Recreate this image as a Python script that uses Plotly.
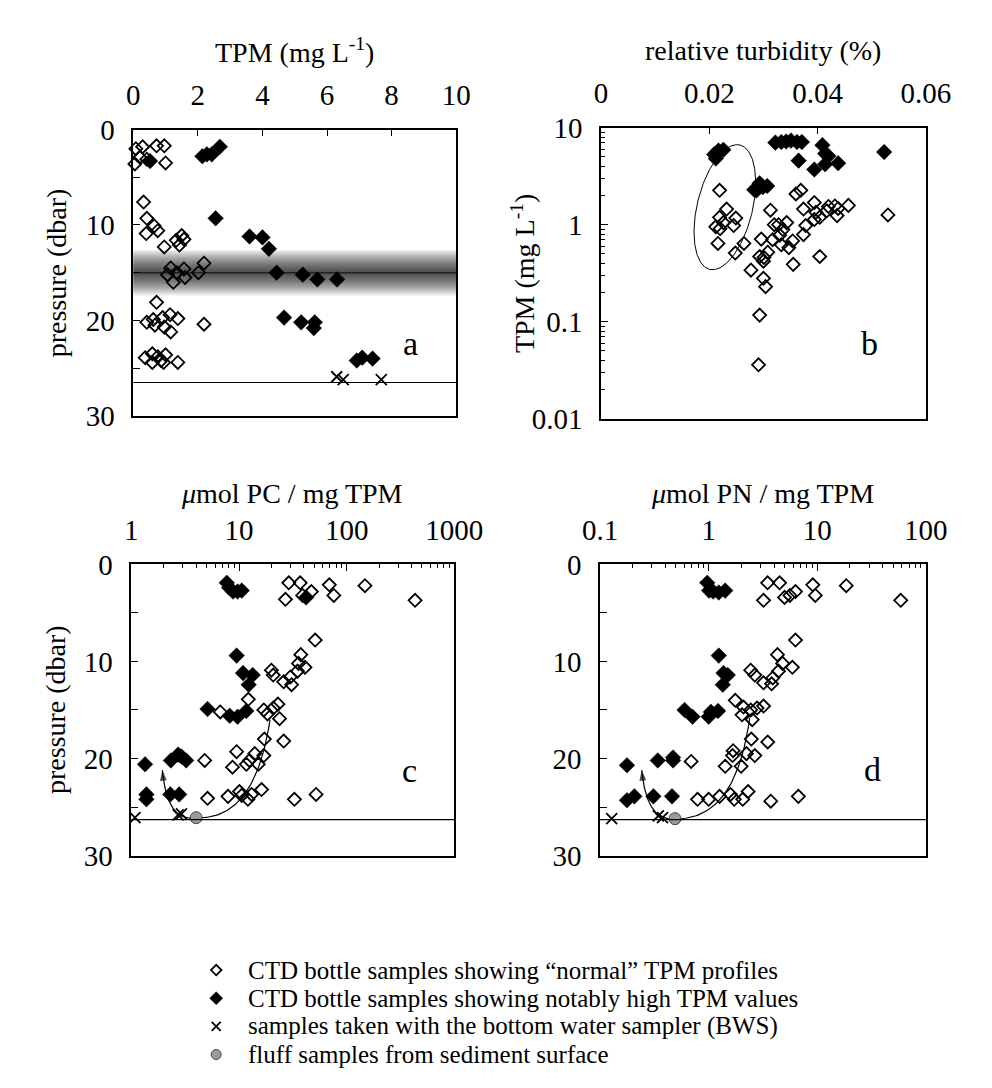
import numpy as np
import plotly.graph_objects as go

# ---------------- data ----------------
# panel a: TPM (mg/L) vs pressure (dbar)
a_norm_tpm = [0.05, 0.08, 0.2, 0.29, 0.42, 0.72, 0.96, 1.0,
              0.32, 0.42, 0.65, 0.76, 0.4, 0.96, 1.33, 1.5, 1.57, 1.43,
              1.06, 1.16, 1.35, 1.24, 1.6, 1.57, 2.02, 2.19,
              0.72, 0.42, 0.62, 0.67, 0.91, 0.96, 1.14, 1.16, 1.38, 2.19,
              0.37, 0.59, 0.59, 0.76, 0.86, 1.0, 0.94, 1.38]
a_norm_p = [3.6, 2.0, 2.9, 1.8, 3.1, 1.7, 1.7, 3.5,
            7.6, 9.3, 10.1, 10.6, 10.9, 12.3, 11.6, 11.1, 11.5, 12.1,
            15.2, 14.5, 15.0, 16.0, 15.5, 14.6, 15.0, 14.0,
            18.1, 20.2, 19.9, 20.5, 19.7, 20.7, 19.4, 21.2, 19.8, 20.4,
            23.9, 23.5, 24.4, 23.8, 24.2, 23.6, 24.4, 24.4]
a_high_tpm = [0.52, 2.14, 2.28, 2.43, 2.68, 2.55, 3.6, 4.0, 4.2, 4.44, 5.25, 5.7, 6.31,
              4.67, 5.2, 5.62, 5.59, 6.92, 7.09, 7.41]
a_high_p = [3.3, 2.8, 2.6, 2.6, 1.8, 9.3, 11.2, 11.3, 12.5, 15.0, 15.2, 15.7, 15.7,
            19.7, 20.2, 20.2, 20.8, 24.2, 23.9, 24.0]
a_bws_tpm = [6.3, 6.5, 7.68]
a_bws_p = [25.9, 26.2, 26.2]

# panel b: relative turbidity (%) vs TPM (mg/L)
b_norm_turb = [0.0219, 0.0232, 0.0249, 0.0219, 0.0226, 0.0212, 0.0220, 0.0245, 0.0216, 0.0248, 0.0264,
               0.0277, 0.0296, 0.0293, 0.0301, 0.0300, 0.0308, 0.0300, 0.0304, 0.0293, 0.0291,
               0.0313, 0.0320, 0.0317, 0.0328, 0.0330, 0.0343, 0.0333, 0.0347, 0.0354, 0.0336, 0.0355,
               0.0360, 0.0369, 0.0374, 0.0378, 0.0374, 0.0394, 0.0397, 0.0394, 0.0404, 0.0404,
               0.0417, 0.0420, 0.0432, 0.0438, 0.0436, 0.0457, 0.0530]
b_norm_tpm = [2.26, 1.45, 1.17, 1.19, 1.05, 0.95, 0.91, 0.98, 0.64, 0.51, 0.64,
              0.34, 0.71, 0.47, 0.46, 0.42, 0.52, 0.28, 0.23, 0.117, 0.036,
              1.41, 1.0, 0.70, 1.0, 0.78, 1.05, 0.62, 0.58, 0.68, 0.89, 0.39,
              2.07, 2.26, 1.45, 0.98, 0.79, 1.69, 1.34, 1.13, 1.19, 0.47,
              1.39, 1.54, 1.56, 1.47, 1.24, 1.58, 1.26]
b_high_turb = [0.0209, 0.0217, 0.0226, 0.0212, 0.0214,
               0.0283, 0.0293, 0.0299, 0.0307, 0.0287,
               0.0322, 0.0333, 0.0342, 0.0351, 0.0362, 0.0371,
               0.0365, 0.0394, 0.0409, 0.0414, 0.0420, 0.0414, 0.0438, 0.0523]
b_high_tpm = [5.3, 5.8, 5.9, 4.8, 5.4,
              2.29, 2.67, 2.44, 2.5, 2.25,
              7.0, 7.1, 7.2, 7.35, 7.1, 7.1,
              4.57, 3.7, 6.6, 5.4, 5.1, 4.2, 4.3, 5.6]

# panel c: umol PC / mg TPM vs pressure
c_norm_pc = [29, 37, 27, 39, 47, 69, 76, 148, 432,
             51, 37.5, 35.7, 41, 35, 20, 20.8, 26, 30, 30.8, 12.2,
             6.7, 17, 18.4, 20.8, 23, 23.8,
             17.2, 26, 9.5, 14, 17, 15.1, 11.7, 12.5, 4.8, 8.7,
             5.1, 7.9, 10.1, 10.6, 12.1, 13.1, 16.2, 32.7, 52]
c_norm_p = [1.9, 1.9, 3.6, 3.2, 2.8, 2.1, 3.2, 2.2, 3.7,
            7.8, 9.3, 10.2, 10.6, 11.0, 10.9, 11.4, 12.1, 11.6, 12.4, 13.9,
            15.2, 15.0, 15.4, 14.8, 14.4, 15.9,
            18.0, 18.2, 19.3, 19.5, 19.7, 20.6, 20.6, 20.2, 20.2, 20.9,
            24.1, 23.9, 23.4, 23.8, 24.2, 23.7, 23.2, 24.2, 23.7]
c_high_pc = [7.7, 8.1, 8.8, 9.7, 10.6, 42, 9.5, 10.9, 13.4, 12.3, 5.1, 8.2, 9.7, 11.7,
             1.34, 2.33, 2.72, 2.92, 3.23, 1.38, 1.38, 2.3, 2.78]
c_high_p = [1.9, 2.4, 2.8, 2.8, 2.7, 3.4, 9.4, 11.2, 11.4, 12.4, 14.9, 15.6, 15.7, 15.1,
            20.6, 20.2, 19.6, 19.8, 20.2, 23.7, 24.2, 23.7, 23.7]
c_bws_pc = [1.08, 2.72, 2.92]
c_bws_p = [26.1, 25.8, 25.7]
c_fluff_pc = [4.0]
c_fluff_p = [26.1]

# panel d: umol PN / mg TPM vs pressure
d_norm_pn = [3.49, 4.5, 3.2, 5.0, 5.6, 6.3, 9.1, 9.6, 18.5, 58.7,
             6.3, 4.3, 4.8, 5.9, 4.4, 2.44, 2.66, 3.2, 3.8, 3.9,
             1.76, 2.09, 2.03, 2.44, 2.79, 3.2, 2.52,
             0.69, 1.42, 1.66, 1.68, 1.99, 2.23, 2.66, 2.47, 3.5,
             0.79, 1.0, 1.26, 1.59, 1.72, 2.06, 2.31, 3.73, 6.7]
d_norm_p = [1.9, 1.9, 3.7, 3.4, 3.2, 2.8, 2.1, 3.2, 2.2, 3.7,
            7.8, 9.3, 10.2, 10.6, 11.0, 10.9, 11.4, 12.2, 12.3, 11.7,
            14.0, 14.7, 15.5, 15.0, 14.8, 14.6, 16.0,
            20.3, 20.8, 19.7, 19.2, 20.8, 19.5, 19.7, 18.0, 18.3,
            24.2, 24.2, 23.9, 23.7, 24.2, 24.2, 23.4, 24.4, 23.9]
d_high_pn = [0.97, 1.01, 1.24, 1.42, 1.1, 1.24, 1.37, 1.5, 1.35, 0.6, 0.71, 1.0, 1.05, 1.22,
             0.177, 0.34, 0.47, 0.47, 0.177, 0.207, 0.31, 0.46]
d_high_p = [1.9, 2.7, 2.9, 2.7, 2.8, 9.4, 11.2, 11.4, 12.4, 15.0, 15.7, 15.7, 15.2, 15.1,
            20.7, 20.2, 19.9, 20.2, 24.3, 23.9, 23.9, 23.9]
d_bws_pn = [0.128, 0.344, 0.376]
d_bws_p = [26.2, 25.9, 26.1]
d_fluff_pn = [0.49]
d_fluff_p = [26.2]

bottom_a = 26.5
bottom_cd = 26.3
band_center = 15.0

legend_labels = ["CTD bottle samples showing \u201cnormal\u201d TPM profiles",
                 "CTD bottle samples showing notably high TPM values",
                 "samples taken with the bottom water sampler (BWS)",
                 "fluff samples from sediment surface"]

# ---------------- style ----------------
FONT = "Liberation Serif"
W, H = 992, 1088
TICKF = dict(family=FONT, size=29, color="black")

def xd(l, r):
    return [l / W, r / W]

def yd(t, b):
    return [1 - b / H, 1 - t / H]

def px(x):
    return x / W

def py(y):
    return 1 - y / H

open_m = dict(symbol="diamond-open", size=10, color="black", line=dict(width=1.8, color="black"))
fill_m = dict(symbol="diamond", size=12, color="black", line=dict(width=0.5, color="black"))
x_m = dict(symbol="x-thin-open", size=11, color="black", line=dict(width=1.8, color="black"))
fluff_m = dict(symbol="circle", size=12, color="#9a9a9a", line=dict(width=1, color="#444"))

fig = go.Figure()

def pts(x, y, m, xa, ya, name):
    fig.add_trace(go.Scatter(x=x, y=y, mode="markers", marker=m, xaxis=xa, yaxis=ya,
                             showlegend=False, name=name, cliponaxis=False))

def line(x, y, xa, ya, w=1.3):
    fig.add_trace(go.Scatter(x=x, y=y, mode="lines", line=dict(color="black", width=w),
                             xaxis=xa, yaxis=ya, showlegend=False, hoverinfo="skip"))

# panel a
pts(a_norm_tpm, a_norm_p, open_m, "x", "y", "normal")
pts(a_high_tpm, a_high_p, fill_m, "x", "y", "high")
pts(a_bws_tpm, a_bws_p, x_m, "x", "y", "BWS")

# panel b: ellipse (drawn in axis pixel space, converted to data)
pw, ph = 341.0, 300.0
cx, cy, sa, sb, ang = 130.0, 218.0, 66.0, 29.0, np.deg2rad(-14)
t = np.linspace(0, 2 * np.pi, 200)
ux, uy = -np.sin(ang), np.cos(ang)
vx, vy = uy, -ux
ex = cx + sa * np.cos(t) * ux + sb * np.sin(t) * vx
ey = cy + sa * np.cos(t) * uy + sb * np.sin(t) * vy
line(ex / pw * 0.06, 10 ** (-2 + ey / ph * 3), "x2", "y2", 1.0)
pts(b_norm_turb, b_norm_tpm, open_m, "x2", "y2", "normal")
pts(b_high_turb, b_high_tpm, fill_m, "x2", "y2", "high")

def bez(p0, p1, p2, n=60):
    s = np.linspace(0, 1, n)[:, None]
    p0, p1, p2 = map(np.array, (p0, p1, p2))
    return (1 - s) ** 2 * p0 + 2 * (1 - s) * s * p1 + s ** 2 * p2

def curves(fx, fp, left_tip, left_ctrl, right_end, right_ctrl, xa, ya):
    f = (np.log10(fx), fp)
    L = bez(f, left_ctrl, left_tip)
    R = bez(f, right_ctrl, right_end)
    sizes = [0] * (len(L) - 1) + [11]
    fig.add_trace(go.Scatter(x=10 ** L[:, 0], y=L[:, 1], mode="lines+markers",
                             line=dict(color="black", width=1.2),
                             marker=dict(symbol="arrow", size=sizes, angleref="previous", color="black",
                                         line=dict(width=0)),
                             xaxis=xa, yaxis=ya, showlegend=False, hoverinfo="skip"))
    line(10 ** R[:, 0], R[:, 1], xa, ya, 1.2)

# panel c
curves(c_fluff_pc[0], c_fluff_p[0], (0.288, 21.2), (0.33, 26.6), (1.288, 16.0), (1.15, 26.4), "x3", "y3")
pts(c_norm_pc, c_norm_p, open_m, "x3", "y3", "normal")
pts(c_high_pc, c_high_p, fill_m, "x3", "y3", "high")
pts(c_bws_pc, c_bws_p, x_m, "x3", "y3", "BWS")
pts(c_fluff_pc, c_fluff_p, fluff_m, "x3", "y3", "fluff")

# panel d
curves(d_fluff_pn[0], d_fluff_p[0], (-0.616, 21.2), (-0.57, 26.6), (0.378, 15.8), (0.25, 26.4), "x4", "y4")
pts(d_norm_pn, d_norm_p, open_m, "x4", "y4", "normal")
pts(d_high_pn, d_high_p, fill_m, "x4", "y4", "high")
pts(d_bws_pn, d_bws_p, x_m, "x4", "y4", "BWS")
pts(d_fluff_pn, d_fluff_p, fluff_m, "x4", "y4", "fluff")

# legend samples on a helper axis (one row per entry)
leg_markers = [open_m, fill_m, x_m, fluff_m]
for i, m in enumerate(leg_markers):
    mm = dict(m)
    mm["size"] = m["size"] - 2
    fig.add_trace(go.Scatter(x=[0], y=[i], mode="markers", marker=mm, xaxis="x5", yaxis="y5",
                             showlegend=False, hoverinfo="skip"))

# ---------------- axes ----------------
common = dict(showline=True, linecolor="black", linewidth=1.5, mirror=True, showgrid=False,
              zeroline=False, ticks="inside", ticklen=7, tickwidth=1.3, tickcolor="black",
              tickfont=TICKF, ticklabelstandoff=11)

def logminor(lo, hi):
    return [k * 10 ** e for e in range(lo, hi) for k in range(2, 10)]

lay = dict(
    width=W, height=H, margin=dict(l=0, r=0, t=0, b=0),
    plot_bgcolor="white", paper_bgcolor="white", showlegend=False,
    xaxis=dict(domain=xd(121, 460), anchor="y", side="top", range=[0, 10],
               tickvals=[0, 2, 4, 6, 8, 10], **common),
    yaxis=dict(domain=yd(117, 412), anchor="x", range=[30, 0], tickvals=[0, 10, 20, 30],
               minor=dict(tickvals=[5, 15, 25], ticks="inside", ticklen=7, tickcolor="black"), **common),
    xaxis2=dict(domain=xd(612, 953), anchor="y2", side="top", range=[0, 0.06],
                tickvals=[0, 0.02, 0.04, 0.06], ticktext=["0", "0.02", "0.04", "0.06"], **common),
    yaxis2=dict(domain=yd(115, 415), anchor="x2", type="log", range=[-2, 1],
                tickvals=[0.01, 0.1, 1, 10], ticktext=["0.01", "0.1", "1", "10"],
                minor=dict(tickvals=logminor(-2, 1), ticks="inside", ticklen=4, tickcolor="black"), **common),
    xaxis3=dict(domain=xd(119, 458), anchor="y3", side="top", type="log", range=[0, 3],
                tickvals=[1, 10, 100, 1000], ticktext=["1", "10", "100", "1000"],
                minor=dict(tickvals=logminor(0, 3), ticks="inside", ticklen=4, tickcolor="black"), **common),
    yaxis3=dict(domain=yd(565, 865), anchor="x3", range=[30, 0], tickvals=[0, 10, 20, 30],
                minor=dict(tickvals=[5, 15, 25], ticks="inside", ticklen=7, tickcolor="black"), **common),
    xaxis4=dict(domain=xd(611, 953), anchor="y4", side="top", type="log", range=[-1, 2],
                tickvals=[0.1, 1, 10, 100], ticktext=["0.1", "1", "10", "100"],
                minor=dict(tickvals=logminor(-1, 2), ticks="inside", ticklen=4, tickcolor="black"), **common),
    yaxis4=dict(domain=yd(565, 865), anchor="x4", range=[30, 0], tickvals=[0, 10, 20, 30],
                minor=dict(tickvals=[5, 15, 25], ticks="inside", ticklen=7, tickcolor="black"), **common),
    xaxis5=dict(domain=xd(195, 990), anchor="y5", range=[-0.5, 30], visible=False),
    yaxis5=dict(domain=yd(968.5, 1084.5), anchor="x5", range=[3.5, -0.5], visible=False),
)
fig.update_layout(**lay)

# ---------------- shapes ----------------
shapes = []
for hw in np.linspace(2.4, 0.2, 20):
    shapes.append(dict(type="rect", xref="x domain", yref="y", x0=0, x1=1,
                       y0=band_center - hw, y1=band_center + hw,
                       fillcolor="rgba(0,0,0,0.05)", line=dict(width=0), layer="below"))
shapes.append(dict(type="line", xref="x domain", yref="y", x0=0, x1=1, y0=band_center, y1=band_center,
                   line=dict(color="#222", width=1.4), layer="below"))
for xr, yr, yv in [("x domain", "y", bottom_a), ("x3 domain", "y3", bottom_cd), ("x4 domain", "y4", bottom_cd)]:
    shapes.append(dict(type="line", xref=xr, yref=yr, x0=0, x1=1, y0=yv, y1=yv,
                       line=dict(color="black", width=1.2)))
fig.update_layout(shapes=shapes)

# ---------------- text ----------------
TF = dict(family=FONT, size=28, color="black")
LF = dict(family=FONT, size=34, color="black")
anns = [
    dict(text="TPM (mg L<sup>-1</sup>)", x=px(290), y=py(36), xref="paper", yref="paper",
         showarrow=False, font=TF, xanchor="center", yanchor="middle"),
    dict(text="relative turbidity (%)", x=px(782), y=py(36), xref="paper", yref="paper",
         showarrow=False, font=TF, xanchor="center", yanchor="middle"),
    dict(text="<i>\u03bc</i>mol PC / mg TPM", x=px(288), y=py(492), xref="paper", yref="paper",
         showarrow=False, font=TF, xanchor="center", yanchor="middle"),
    dict(text="<i>\u03bc</i>mol PN / mg TPM", x=px(782), y=py(492), xref="paper", yref="paper",
         showarrow=False, font=TF, xanchor="center", yanchor="middle"),
    dict(text="pressure (dbar)", x=px(40), y=py(265), xref="paper", yref="paper", textangle=-90,
         showarrow=False, font=TF, xanchor="center", yanchor="middle"),
    dict(text="pressure (dbar)", x=px(40), y=py(715), xref="paper", yref="paper", textangle=-90,
         showarrow=False, font=TF, xanchor="center", yanchor="middle"),
    dict(text="TPM (mg L<sup>-1</sup>)", x=px(530), y=py(265), xref="paper", yref="paper", textangle=-90,
         showarrow=False, font=TF, xanchor="center", yanchor="middle"),
    dict(text="a", x=8.6, y=22.4, xref="x", yref="y", showarrow=False, font=LF),
    dict(text="b", x=0.0496, y=np.log10(0.06), xref="x2", yref="y2", showarrow=False, font=LF),
    dict(text="c", x=np.log10(383), y=21.2, xref="x3", yref="y3", showarrow=False, font=LF),
    dict(text="d", x=np.log10(32.4), y=21.1, xref="x4", yref="y4", showarrow=False, font=LF),
]
for i, lab in enumerate(legend_labels):
    anns.append(dict(text=lab, x=1.2, y=i, xref="x5", yref="y5", showarrow=False,
                     xanchor="left", yanchor="middle", font=dict(family=FONT, size=25, color="black")))
fig.update_layout(annotations=anns)

fig.write_html("out.html", config={"displayModeBar": False},
               post_script="document.body.style.margin='0px';")
